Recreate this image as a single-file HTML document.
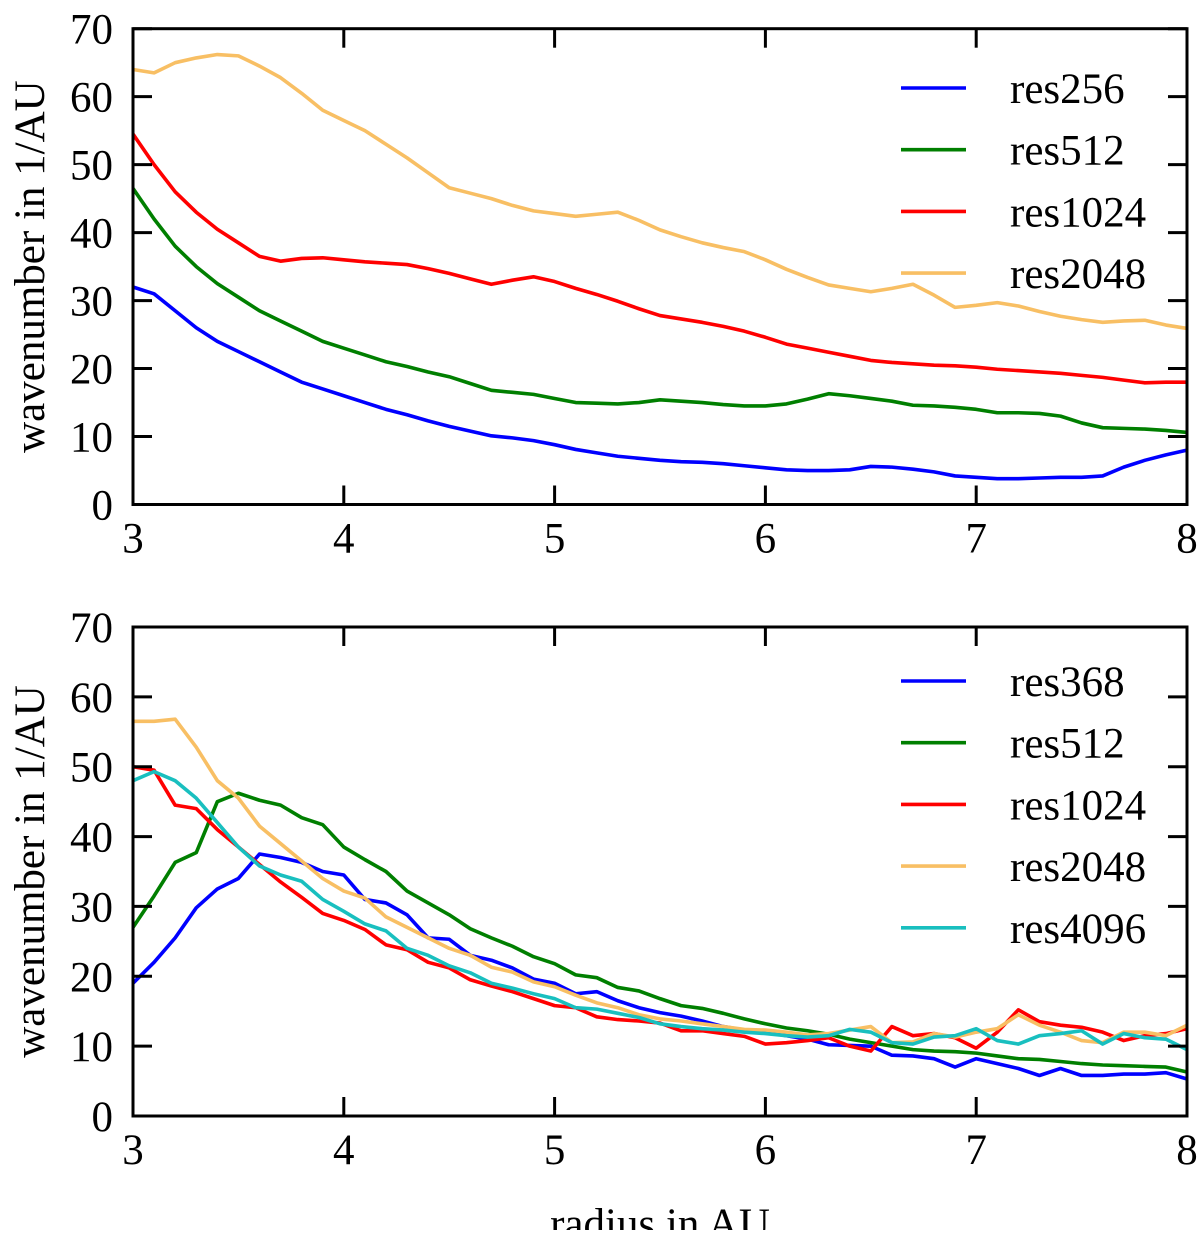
<!DOCTYPE html>
<html><head><meta charset="utf-8"><style>
body{margin:0;background:#fff}
svg text{font-family:"Liberation Serif","Times New Roman",serif;fill:#000}
</style></head><body>
<svg id="c" width="1200" height="1230" xmlns="http://www.w3.org/2000/svg"></svg>
<script>
const xs=[3,3.1,3.2,3.3,3.4,3.5,3.6,3.7,3.8,3.9,4,4.1,4.2,4.3,4.4,4.5,4.6,4.7,4.8,4.9,5,5.1,5.2,5.3,5.4,5.5,5.6,5.7,5.8,5.9,6,6.1,6.2,6.3,6.4,6.5,6.6,6.7,6.8,6.9,7,7.1,7.2,7.3,7.4,7.5,7.6,7.7,7.8,7.9,8];
const xTicks=[3,4,5,6,7,8];
const yTicks=[0,10,20,30,40,50,60,70];
const top256=[32,31,28.5,26,24,22.5,21,19.5,18,17,16,15,14,13.2,12.3,11.5,10.8,10.1,9.8,9.4,8.8,8.1,7.6,7.1,6.8,6.5,6.3,6.2,6,5.7,5.4,5.1,5,5,5.1,5.6,5.5,5.2,4.8,4.2,4,3.8,3.8,3.9,4,4,4.2,5.5,6.5,7.3,8];
const top512=[46.5,42,38,35,32.5,30.5,28.5,27,25.5,24,23,22,21,20.3,19.5,18.8,17.8,16.8,16.5,16.2,15.6,15,14.9,14.8,15,15.4,15.2,15,14.7,14.5,14.5,14.8,15.5,16.3,16,15.6,15.2,14.6,14.5,14.3,14,13.5,13.5,13.4,13,12,11.3,11.2,11.1,10.9,10.6];
const top1024=[54.5,50,46,43,40.5,38.5,36.5,35.8,36.2,36.3,36,35.7,35.5,35.3,34.7,34,33.2,32.4,33,33.5,32.8,31.8,30.9,29.9,28.8,27.8,27.3,26.8,26.2,25.5,24.6,23.6,23,22.4,21.8,21.2,20.9,20.7,20.5,20.4,20.2,19.9,19.7,19.5,19.3,19,18.7,18.3,17.9,18,18];
const top2048=[64,63.5,65,65.7,66.2,66,64.5,62.8,60.5,58,56.5,55,53,51,48.8,46.6,45.8,45,44,43.2,42.8,42.4,42.7,43,41.8,40.4,39.4,38.5,37.8,37.2,36,34.6,33.4,32.3,31.8,31.3,31.8,32.4,30.8,29,29.3,29.7,29.2,28.4,27.7,27.2,26.8,27,27.1,26.4,25.9];
const bot368=[19,22,25.5,29.8,32.5,34,37.5,37,36.3,35,34.5,31,30.5,28.8,25.5,25.3,23,22.3,21.2,19.6,19,17.5,17.8,16.5,15.5,14.8,14.3,13.6,12.8,12.3,12,11.5,11,10.2,10.1,10,8.7,8.6,8.2,7,8.2,7.5,6.8,5.8,6.8,5.8,5.8,6,6,6.2,5.3];
const bot512=[27,31.5,36.3,37.7,45,46.2,45.2,44.5,42.7,41.7,38.5,36.7,35,32.2,30.5,28.8,26.8,25.5,24.3,22.8,21.8,20.2,19.8,18.4,17.9,16.8,15.8,15.4,14.7,13.9,13.2,12.6,12.2,11.7,11,10.5,10,9.5,9.3,9.2,9,8.6,8.2,8.1,7.8,7.5,7.3,7.2,7.1,7,6.3];
const bot1024=[50,49.5,44.5,44,41,38.5,36,33.5,31.3,29,28,26.7,24.5,23.8,22,21.2,19.5,18.6,17.8,16.8,15.8,15.5,14.2,13.8,13.6,13.3,12.2,12.2,11.8,11.4,10.3,10.5,10.8,11.2,10,9.3,12.8,11.5,11.8,11.2,9.7,12,15.2,13.5,13,12.7,12,10.8,11.5,11.8,12.5];
const bot2048=[56.5,56.5,56.8,52.8,48,45.5,41.5,39,36.5,34,32.2,31.2,28.5,27,25.5,24,23,21.3,20.6,19.2,18.5,17.3,16.2,15.5,14.5,13.9,13.6,13.2,12.8,12.4,12.3,12,11.6,11.8,12.3,12.8,10.5,10.6,11.8,11.3,12,12.5,14.5,13,12,10.8,10.5,12,12,11.5,13];
const bot4096=[48,49.3,48,45.5,42,38.5,35.8,34.5,33.6,31,29.3,27.5,26.5,24,23,21.5,20.5,19,18.3,17.5,16.8,15.5,15.3,14.7,14.1,13.2,12.8,12.5,12.3,12,11.8,11.5,11.3,11.5,12.4,12,10.5,10.3,11.3,11.5,12.5,10.8,10.3,11.5,11.8,12.2,10.3,11.8,11.2,11,9.5];
const topNames=["res256","res512","res1024","res2048"];
const botNames=["res368","res512","res1024","res2048","res4096"];
const svg=document.getElementById('c');const NS='http://www.w3.org/2000/svg';
function mk(t,a,p){const e=document.createElementNS(NS,t);for(const k in a)e.setAttribute(k,a[k]);(p||svg).appendChild(e);return e;}
const X0=133,X1=1187;
function panel(name,yTop,yBot,series,names,colors,legY,showXTitle){
  const g=mk('g',{});
  
  
  const sx=v=>X0+(v-3)/5*(X1-X0), sy=v=>yBot-v/70*(yBot-yTop);
  series.forEach((s,i)=>{
    const p=mk('polyline',{points:s.map((v,j)=>sx(xs[j])+','+sy(v)).join(' '),fill:'none',stroke:colors[i],'stroke-width':3.6,'stroke-linejoin':'round'},g);
    
    
  });
  const fr=mk('rect',{x:X0,y:yTop,width:X1-X0,height:yBot-yTop,fill:'none',stroke:'#000','stroke-width':3},g);
  
  
  xTicks.forEach(t=>{const x=sx(t);
    mk('line',{x1:x,x2:x,y1:yBot,y2:yBot-19,stroke:'#000','stroke-width':3},g);
    mk('line',{x1:x,x2:x,y1:yTop,y2:yTop+19,stroke:'#000','stroke-width':3},g);
    const tx=mk('text',{x:x,y:yBot+48,'text-anchor':'middle','font-size':43,'font-family':'Liberation Serif, serif'},g);tx.textContent=t;
    
    });
  yTicks.forEach(t=>{const y=sy(t);
    mk('line',{x1:X0,x2:X0+19,y1:y,y2:y,stroke:'#000','stroke-width':3},g);
    mk('line',{x1:X1,x2:X1-19,y1:y,y2:y,stroke:'#000','stroke-width':3},g);
    const ty=mk('text',{x:113,y:y+15,'text-anchor':'end','font-size':43,'font-family':'Liberation Serif, serif'},g);ty.textContent=t;
    
    });
  const yt=mk('text',{x:0,y:0,'text-anchor':'middle','font-size':43,'font-family':'Liberation Serif, serif',transform:'translate(44,'+((yTop+yBot)/2)+') rotate(-90)'},g);
  yt.textContent='wavenumber in 1/AU';
  
  
  names.forEach((n,i)=>{const y=legY+i*61.7;
    const l=mk('line',{x1:901,x2:966,y1:y,y2:y,stroke:colors[i],'stroke-width':3.6},g);
    
    
    const t=mk('text',{x:1010,y:y+15,'font-size':43,'font-family':'Liberation Serif, serif'},g);t.textContent=n;
    
    });
  if(showXTitle){const t=mk('text',{x:660,y:1238,'text-anchor':'middle','font-size':43,'font-family':'Liberation Serif, serif'},g);t.textContent='radius in AU';
    
    }
}
panel('top-panel',28.7,504.5,[top256,top512,top1024,top2048],topNames,['#0000ff','#007f00','#ff0000','#f8bf64'],88,false);
panel('bottom-panel',627,1116,[bot368,bot512,bot1024,bot2048,bot4096],botNames,['#0000ff','#007f00','#ff0000','#f8bf64','#19bfbf'],681,true);
</script>
</body></html>
